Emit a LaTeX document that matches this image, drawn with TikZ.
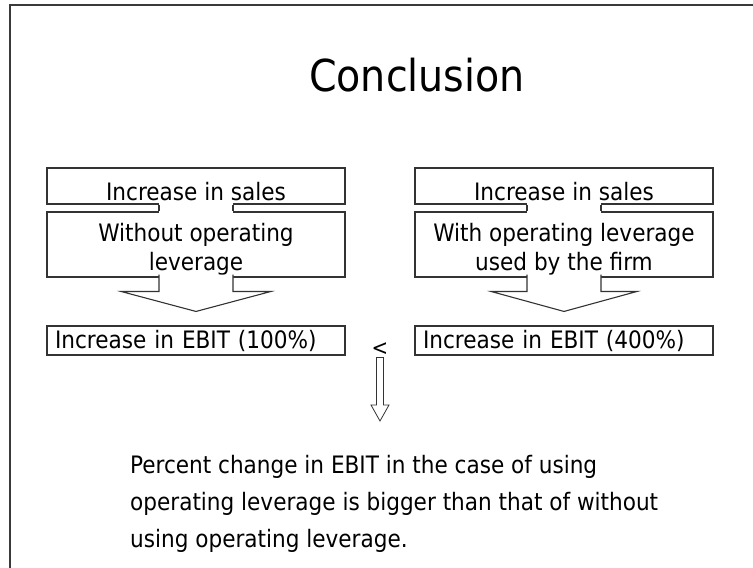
\documentclass[tikz,border=0pt]{standalone}
\usepackage{fontspec}
\setmainfont{DejaVu Sans Condensed}
\usepackage{tikz}
\usetikzlibrary{calc,positioning}
\definecolor{slideLine}{HTML}{3A3A3A}
\definecolor{boxLine}{HTML}{333333}
% two lines of box text, set a little low in the box
\newcommand{\lowLines}[2]{\raisebox{-6pt}[\height][\depth]{\begin{tabular}{@{}c@{}}#1\\#2\end{tabular}}}

\begin{document}
\begin{tikzpicture}[x=1pt, y=-1pt,
  box/.style={draw=boxLine,line width=1.1pt,fill=white,minimum width=298pt,inner sep=0pt,font=\fontsize{24}{29}\selectfont},
  shaft/.style={draw=boxLine,line width=1.1pt,fill=white}]
\useasboundingbox (0,0) rectangle (753,568);
% --- slide frame and title ---
  \draw[slideLine,line width=2pt] (753,5) -- (10,5) -- (10,568);
  \node[font=\fontsize{44}{53}\selectfont] (title) at (417,75) {Conclusion};
% --- left column ---
  \node[box,minimum height=36pt,text height=29pt,text depth=0pt] (salesL) at (196,186) {Increase in sales};
  \node[box,minimum height=65pt] (opL) at (196,244.5) {\lowLines{Without operating}{leverage}};
  \node[box,minimum height=29pt,text width=282pt,inner xsep=8pt,align=left] (ebitL) at (196,340.5) {Increase in EBIT (100\%)};
  \fill[white] ($(salesL.south)+(-37,-3)$) rectangle ($(opL.north)+(37,3)$);
  \draw[shaft] ($(salesL.south)+(-37,0)$) -- ($(opL.north)+(-37,0)$);
  \draw[shaft] ($(salesL.south)+(37,0)$) -- ($(opL.north)+(37,0)$);
  \draw[shaft] ($(opL.south)+(-37,-3)$) -- ($(ebitL.north)+(-37,-34)$) -- ($(ebitL.north)+(-75,-34)$)
    -- ($(ebitL.north)+(0,-14)$) -- ($(ebitL.north)+(75,-34)$) -- ($(ebitL.north)+(37,-34)$) -- ($(opL.south)+(37,-3)$);
% --- right column ---
  \node[box,minimum height=36pt,text height=29pt,text depth=0pt] (salesR) at (564,186) {Increase in sales};
  \node[box,minimum height=65pt] (opR) at (564,244.5) {\lowLines{With operating leverage}{used by the firm}};
  \node[box,minimum height=29pt,text width=282pt,inner xsep=8pt,align=left] (ebitR) at (564,340.5) {Increase in EBIT (400\%)};
  \fill[white] ($(salesR.south)+(-37,-3)$) rectangle ($(opR.north)+(37,3)$);
  \draw[shaft] ($(salesR.south)+(-37,0)$) -- ($(opR.north)+(-37,0)$);
  \draw[shaft] ($(salesR.south)+(37,0)$) -- ($(opR.north)+(37,0)$);
  \draw[shaft] ($(opR.south)+(-37,-3)$) -- ($(ebitR.north)+(-37,-34)$) -- ($(ebitR.north)+(-73,-34)$)
    -- ($(ebitR.north)+(0,-14)$) -- ($(ebitR.north)+(73,-34)$) -- ($(ebitR.north)+(37,-34)$) -- ($(opR.south)+(37,-3)$);
% --- comparison ---
  \node[font=\fontsize{22}{26}\selectfont,inner sep=0pt] (lt) at (380,349) {<};
  \coordinate (ltTip) at (380,421);
  \draw[shaft,line width=0.8pt] ($(lt.south)+(-3.5,2)$) -- ($(ltTip)+(-3.5,-16)$) -- ($(ltTip)+(-9,-16)$) -- (ltTip)
    -- ($(ltTip)+(9,-16)$) -- ($(ltTip)+(3.5,-16)$) -- ($(lt.south)+(3.5,2)$) -- cycle;
  \node[anchor=north west,inner sep=0pt,align=left,font=\fontsize{24}{37}\selectfont] (concl) at (130,455)
    {Percent change in EBIT in the case of using\\operating leverage is bigger than that of without\\using operating leverage.};
\end{tikzpicture}
\end{document}
